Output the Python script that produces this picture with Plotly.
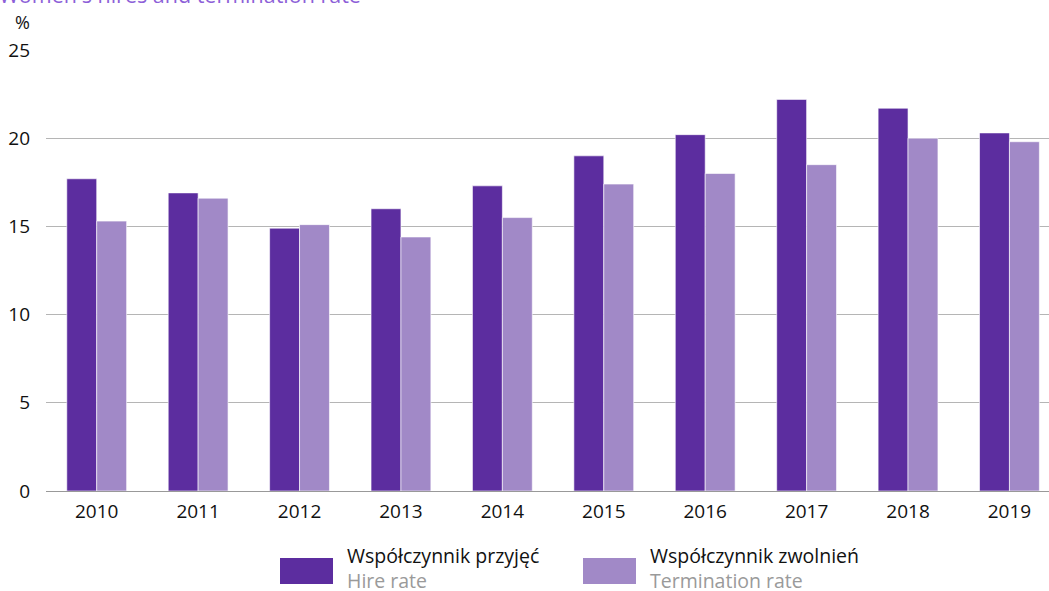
import plotly.graph_objects as go

years = ["2010", "2011", "2012", "2013", "2014", "2015", "2016", "2017", "2018", "2019"]
hire_rate = [17.7, 16.9, 14.9, 16.0, 17.3, 19.0, 20.2, 22.2, 21.7, 20.3]
termination_rate = [15.3, 16.6, 15.1, 14.4, 15.5, 17.4, 18.0, 18.5, 20.0, 19.8]
y_ticks = [0, 5, 10, 15, 20, 25]

DARK = "#5c2d9f"
LIGHT = "#a189c7"
FONT = "Open Sans"

W, H = 1049, 591
L, R, T, B = 46, 1049, 50, 491


def px(x):
    return (x - L) / (R - L)


def py(y):
    return (B - y) / (B - T)


fig = go.Figure()
fig.add_trace(go.Bar(x=years, y=hire_rate, name="Hire rate",
                     marker=dict(color=DARK, line=dict(color="rgba(255,255,255,0.6)", width=1)),
                     showlegend=False))
fig.add_trace(go.Bar(x=years, y=termination_rate, name="Termination rate",
                     marker=dict(color=LIGHT, line=dict(color="rgba(255,255,255,0.6)", width=1)),
                     showlegend=False))

shapes = []
annotations = []

# legend
for (x0, x1, color, pl, en) in [
    (280, 333, DARK, "Współczynnik przyjęć", "Hire rate"),
    (583, 636, LIGHT, "Współczynnik zwolnień", "Termination rate"),
]:
    shapes.append(dict(type="rect", xref="paper", yref="paper",
                       x0=px(x0), x1=px(x1), y0=py(584), y1=py(558),
                       fillcolor=color, line=dict(width=0)))
    annotations.append(dict(text=f"{pl}<br><span style='color:#9a9a9a'>{en}</span>",
                            xref="paper", yref="paper", x=px(x1 + 12), y=py(567.5),
                            xanchor="left", yanchor="middle", align="left", showarrow=False,
                            font=dict(family=FONT, size=19.5, color="#111111")))

# unit label
annotations.append(dict(text="%", xref="paper", yref="paper", x=px(13), y=py(22),
                        xanchor="left", yanchor="middle", showarrow=False,
                        font=dict(family=FONT, size=18, color="#111111")))

# title, cropped at the very top as in the source
annotations.append(dict(text="Women's hires and termination rate", xref="paper", yref="paper",
                        x=px(-3), y=py(-6), xanchor="left", yanchor="middle", showarrow=False,
                        font=dict(family=FONT, size=21.5, color="#8d5fd8")))

fig.update_layout(
    width=W, height=H,
    margin=dict(l=L, r=W - R, t=T, b=H - B, pad=0),
    plot_bgcolor="white", paper_bgcolor="white",
    barmode="group", bargap=0.41, bargroupgap=0,
    font=dict(family=FONT, size=19, color="#111111"),
    shapes=shapes, annotations=annotations,
)
fig.update_xaxes(type="category", range=[-0.5, 9.39], showgrid=False, ticks="",
                 showline=True, linecolor="#999999", linewidth=1, ticklabelstandoff=3,
                 tickfont=dict(family=FONT, size=19, color="#111111"))
fig.update_yaxes(range=[0, 25], tickvals=y_ticks, showgrid=True, gridcolor="#b5b5b5", gridwidth=1,
                 zeroline=False, ticks="", ticklabelstandoff=15,
                 tickfont=dict(family=FONT, size=19, color="#111111"))

fig.write_html("out.html", config={"displayModeBar": False},
               post_script="document.body.style.margin='0';document.body.style.overflow='hidden';")
